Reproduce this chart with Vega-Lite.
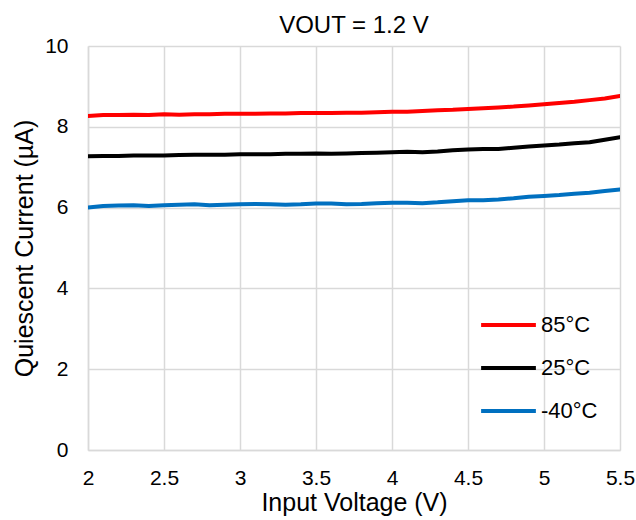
{
  "$schema": "https://vega.github.io/schema/vega-lite/v6.json",
  "width": 532,
  "height": 404,
  "autosize": {"type": "none"},
  "padding": {"left": 88, "top": 46, "right": 16, "bottom": 70},
  "background": "white",
  "title": {"text": "VOUT = 1.2 V", "font": "Liberation Sans", "fontSize": 24, "fontWeight": "normal", "color": "#000000", "offset": -3, "anchor": "middle"},
  "data": {"values": [
    {"v": 2.0, "t": "85°C", "i": 8.27}, {"v": 2.1, "t": "85°C", "i": 8.29}, {"v": 2.2, "t": "85°C", "i": 8.29}, {"v": 2.3, "t": "85°C", "i": 8.30}, {"v": 2.4, "t": "85°C", "i": 8.29}, {"v": 2.5, "t": "85°C", "i": 8.31}, {"v": 2.6, "t": "85°C", "i": 8.30}, {"v": 2.7, "t": "85°C", "i": 8.31}, {"v": 2.8, "t": "85°C", "i": 8.31}, {"v": 2.9, "t": "85°C", "i": 8.32}, {"v": 3.0, "t": "85°C", "i": 8.32}, {"v": 3.1, "t": "85°C", "i": 8.32}, {"v": 3.2, "t": "85°C", "i": 8.33}, {"v": 3.3, "t": "85°C", "i": 8.33}, {"v": 3.4, "t": "85°C", "i": 8.34}, {"v": 3.5, "t": "85°C", "i": 8.34}, {"v": 3.6, "t": "85°C", "i": 8.34}, {"v": 3.7, "t": "85°C", "i": 8.35}, {"v": 3.8, "t": "85°C", "i": 8.35}, {"v": 3.9, "t": "85°C", "i": 8.36}, {"v": 4.0, "t": "85°C", "i": 8.37}, {"v": 4.1, "t": "85°C", "i": 8.37}, {"v": 4.2, "t": "85°C", "i": 8.39}, {"v": 4.3, "t": "85°C", "i": 8.41}, {"v": 4.4, "t": "85°C", "i": 8.42}, {"v": 4.5, "t": "85°C", "i": 8.44}, {"v": 4.6, "t": "85°C", "i": 8.46}, {"v": 4.7, "t": "85°C", "i": 8.48}, {"v": 4.8, "t": "85°C", "i": 8.50}, {"v": 4.9, "t": "85°C", "i": 8.53}, {"v": 5.0, "t": "85°C", "i": 8.56}, {"v": 5.1, "t": "85°C", "i": 8.59}, {"v": 5.2, "t": "85°C", "i": 8.62}, {"v": 5.3, "t": "85°C", "i": 8.66}, {"v": 5.4, "t": "85°C", "i": 8.70}, {"v": 5.5, "t": "85°C", "i": 8.76},
    {"v": 2.0, "t": "25°C", "i": 7.27}, {"v": 2.1, "t": "25°C", "i": 7.28}, {"v": 2.2, "t": "25°C", "i": 7.28}, {"v": 2.3, "t": "25°C", "i": 7.29}, {"v": 2.4, "t": "25°C", "i": 7.29}, {"v": 2.5, "t": "25°C", "i": 7.29}, {"v": 2.6, "t": "25°C", "i": 7.30}, {"v": 2.7, "t": "25°C", "i": 7.31}, {"v": 2.8, "t": "25°C", "i": 7.31}, {"v": 2.9, "t": "25°C", "i": 7.31}, {"v": 3.0, "t": "25°C", "i": 7.32}, {"v": 3.1, "t": "25°C", "i": 7.32}, {"v": 3.2, "t": "25°C", "i": 7.32}, {"v": 3.3, "t": "25°C", "i": 7.33}, {"v": 3.4, "t": "25°C", "i": 7.33}, {"v": 3.5, "t": "25°C", "i": 7.34}, {"v": 3.6, "t": "25°C", "i": 7.33}, {"v": 3.7, "t": "25°C", "i": 7.34}, {"v": 3.8, "t": "25°C", "i": 7.35}, {"v": 3.9, "t": "25°C", "i": 7.36}, {"v": 4.0, "t": "25°C", "i": 7.37}, {"v": 4.1, "t": "25°C", "i": 7.38}, {"v": 4.2, "t": "25°C", "i": 7.37}, {"v": 4.3, "t": "25°C", "i": 7.39}, {"v": 4.4, "t": "25°C", "i": 7.42}, {"v": 4.5, "t": "25°C", "i": 7.44}, {"v": 4.6, "t": "25°C", "i": 7.45}, {"v": 4.7, "t": "25°C", "i": 7.45}, {"v": 4.8, "t": "25°C", "i": 7.48}, {"v": 4.9, "t": "25°C", "i": 7.51}, {"v": 5.0, "t": "25°C", "i": 7.54}, {"v": 5.1, "t": "25°C", "i": 7.56}, {"v": 5.2, "t": "25°C", "i": 7.59}, {"v": 5.3, "t": "25°C", "i": 7.62}, {"v": 5.4, "t": "25°C", "i": 7.68}, {"v": 5.5, "t": "25°C", "i": 7.74},
    {"v": 2.0, "t": "-40°C", "i": 6.00}, {"v": 2.1, "t": "-40°C", "i": 6.04}, {"v": 2.2, "t": "-40°C", "i": 6.05}, {"v": 2.3, "t": "-40°C", "i": 6.06}, {"v": 2.4, "t": "-40°C", "i": 6.04}, {"v": 2.5, "t": "-40°C", "i": 6.06}, {"v": 2.6, "t": "-40°C", "i": 6.07}, {"v": 2.7, "t": "-40°C", "i": 6.08}, {"v": 2.8, "t": "-40°C", "i": 6.06}, {"v": 2.9, "t": "-40°C", "i": 6.07}, {"v": 3.0, "t": "-40°C", "i": 6.08}, {"v": 3.1, "t": "-40°C", "i": 6.09}, {"v": 3.2, "t": "-40°C", "i": 6.08}, {"v": 3.3, "t": "-40°C", "i": 6.07}, {"v": 3.4, "t": "-40°C", "i": 6.08}, {"v": 3.5, "t": "-40°C", "i": 6.10}, {"v": 3.6, "t": "-40°C", "i": 6.10}, {"v": 3.7, "t": "-40°C", "i": 6.08}, {"v": 3.8, "t": "-40°C", "i": 6.09}, {"v": 3.9, "t": "-40°C", "i": 6.11}, {"v": 4.0, "t": "-40°C", "i": 6.12}, {"v": 4.1, "t": "-40°C", "i": 6.12}, {"v": 4.2, "t": "-40°C", "i": 6.11}, {"v": 4.3, "t": "-40°C", "i": 6.13}, {"v": 4.4, "t": "-40°C", "i": 6.16}, {"v": 4.5, "t": "-40°C", "i": 6.18}, {"v": 4.6, "t": "-40°C", "i": 6.18}, {"v": 4.7, "t": "-40°C", "i": 6.20}, {"v": 4.8, "t": "-40°C", "i": 6.23}, {"v": 4.9, "t": "-40°C", "i": 6.27}, {"v": 5.0, "t": "-40°C", "i": 6.29}, {"v": 5.1, "t": "-40°C", "i": 6.31}, {"v": 5.2, "t": "-40°C", "i": 6.34}, {"v": 5.3, "t": "-40°C", "i": 6.37}, {"v": 5.4, "t": "-40°C", "i": 6.41}, {"v": 5.5, "t": "-40°C", "i": 6.45}
  ]},
  "mark": {"type": "line", "strokeWidth": 4, "strokeCap": "round", "strokeJoin": "round", "clip": true},
  "encoding": {
    "x": {"field": "v", "type": "quantitative", "title": "Input Voltage (V)",
      "scale": {"domain": [2, 5.5], "nice": false, "zero": false},
      "axis": {"values": [2, 2.5, 3, 3.5, 4, 4.5, 5, 5.5], "format": "~g", "labelFont": "Liberation Sans", "labelFontSize": 21, "labelColor": "#000", "labelPadding": 17, "labelFlush": false,
        "titleFont": "Liberation Sans", "titleFontSize": 25, "titleFontWeight": "normal", "titleColor": "#000", "titlePadding": 2,
        "ticks": false, "domainColor": "#d9d9d9", "domainWidth": 1.5, "gridColor": "#d9d9d9", "gridWidth": 1.5}},
    "y": {"field": "i", "type": "quantitative", "title": "Quiescent Current (µA)",
      "scale": {"domain": [0, 10], "nice": false},
      "axis": {"values": [0, 2, 4, 6, 8, 10], "labelFont": "Liberation Sans", "labelFontSize": 21, "labelColor": "#000", "labelPadding": 20,
        "titleFont": "Liberation Sans", "titleFontSize": 25, "titleFontWeight": "normal", "titleColor": "#000", "titlePadding": 7,
        "ticks": false, "domainColor": "#d9d9d9", "domainWidth": 1.5, "gridColor": "#d9d9d9", "gridWidth": 1.5}},
    "color": {"field": "t", "type": "nominal",
      "scale": {"domain": ["85°C", "25°C", "-40°C"], "range": ["#ff0000", "#000000", "#0070c0"]},
      "legend": {"title": null, "orient": "none", "legendX": 391, "legendY": 264, "symbolType": "stroke", "symbolSize": 3000, "symbolStrokeWidth": 4, "clipHeight": 30, "rowPadding": 13,
        "labelFont": "Liberation Sans", "labelFontSize": 22, "labelColor": "#000", "labelOffset": 3}}
  },
  "config": {"view": {"stroke": null}}
}
